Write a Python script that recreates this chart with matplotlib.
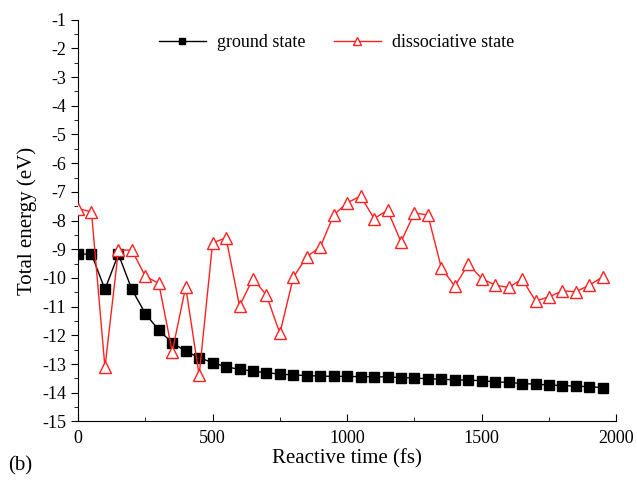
import matplotlib
matplotlib.use("Agg")
import matplotlib.pyplot as plt
from matplotlib.ticker import MultipleLocator

plt.rcParams['font.family'] = ['Liberation Serif', 'DejaVu Serif']
plt.rcParams['axes.unicode_minus'] = False

time_fs = list(range(0, 2000, 50))
ground = [-9.17, -9.17, -10.4, -9.17, -10.4, -11.24, -11.82, -12.26, -12.55, -12.78,
          -12.95, -13.1, -13.18, -13.25, -13.3, -13.35, -13.38, -13.4, -13.42, -13.43,
          -13.43, -13.44, -13.44, -13.45, -13.47, -13.49, -13.51, -13.53, -13.55, -13.56,
          -13.58, -13.62, -13.64, -13.68, -13.7, -13.73, -13.75, -13.77, -13.79, -13.82]
dissociative = [-7.58, -7.7, -13.12, -9.03, -9.03, -9.94, -10.19, -12.57, -10.31, -13.39,
                -8.78, -8.6, -10.98, -10.02, -10.6, -11.93, -9.98, -9.26, -8.92, -7.81,
                -7.38, -7.15, -7.93, -7.64, -8.74, -7.73, -7.81, -9.65, -10.29, -9.52,
                -10.02, -10.25, -10.33, -10.04, -10.8, -10.66, -10.45, -10.48, -10.25, -9.96]
y_ticks = list(range(-15, 0))

fig = plt.figure(figsize=(6.37, 4.8), dpi=100)
ax = fig.add_axes([0.1225, 0.122, 0.845, 0.837])

ax.plot(time_fs, ground, color='black', lw=1.0, marker='s', markersize=6.5,
        markerfacecolor='black', markeredgecolor='black', label='ground state', zorder=3)
ax.plot(time_fs, dissociative, color='#ff2020', lw=1.0, marker='^', markersize=8,
        markerfacecolor='white', markeredgecolor='#ff2020', markeredgewidth=1.0,
        label='dissociative state', zorder=4)

ax.set_xlim(0, 2000)
ax.set_ylim(-15, -1)
ax.set_yticks(y_ticks)
ax.set_xticks([0, 500, 1000, 1500, 2000])
ax.xaxis.set_minor_locator(MultipleLocator(250))
ax.yaxis.set_minor_locator(MultipleLocator(0.5))
ax.spines['top'].set_visible(False)
ax.spines['right'].set_visible(False)
ax.tick_params(axis='x', which='major', direction='in', length=5, labelsize=13, pad=6)
ax.tick_params(axis='x', which='minor', direction='in', length=3)
ax.tick_params(axis='y', which='major', direction='out', length=5, labelsize=13)
ax.tick_params(axis='y', which='minor', direction='out', length=3)

ax.set_xlabel('Reactive time (fs)', fontsize=15, labelpad=2)
ax.set_ylabel('Total energy (eV)', fontsize=15, labelpad=4)

ax.legend(loc='center', bbox_to_anchor=(0.48, 0.943), ncol=2, frameon=False,
          fontsize=13, handlelength=2.6, columnspacing=1.6, handletextpad=0.6,
          markerscale=0.75)

fig.text(0.012, 0.02, '(b)', fontsize=15)

fig.savefig('out.png', dpi=100)
